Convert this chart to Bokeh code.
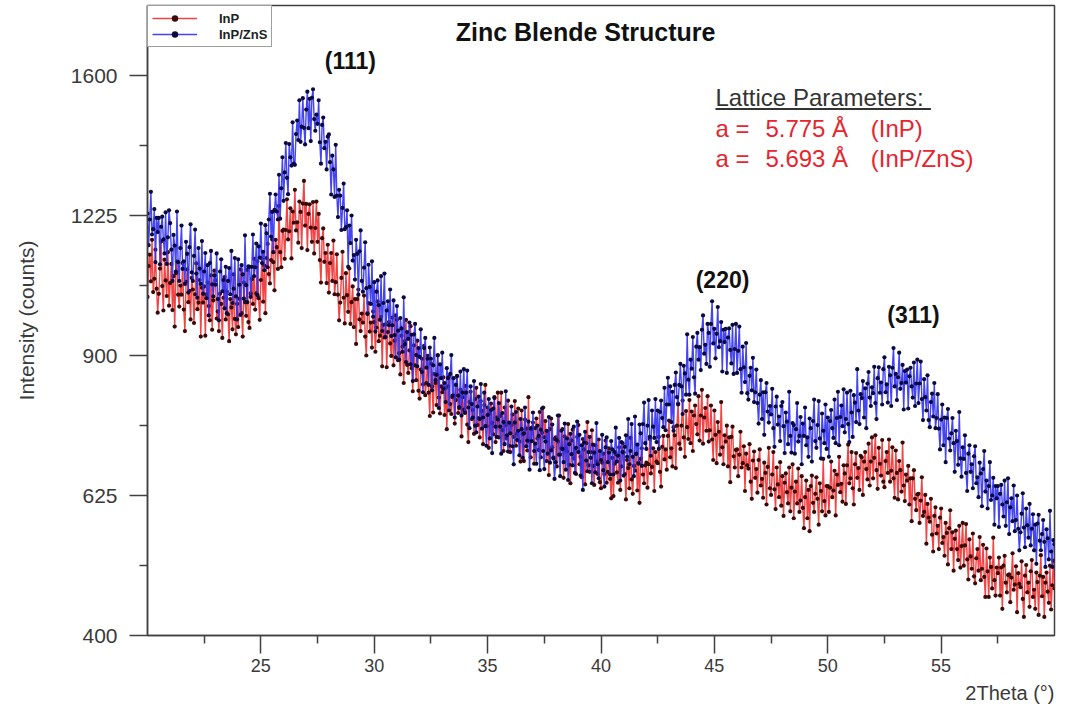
import numpy as np
from bokeh.plotting import figure
from bokeh.models import (Range1d, FixedTicker, CustomJSTickFormatter, Label, Legend,
                          LegendItem, Title, BoxAnnotation, ColumnDataSource)
from bokeh.embed import file_html
from bokeh.resources import INLINE

# ---------------- data (0.05 deg steps) ----------------
two_theta = np.round(np.linspace(20.0, 60.0, 801), 2)

inp_zns_counts = [
    1230, 1152, 1215, 1285, 1178, 1191, 1241, 1111, 1219, 1184,
    1219, 1106, 1197, 1222, 1166, 1132, 1233, 1107, 1171, 1238,
    1206, 1141, 1067, 1177, 1151, 1089, 1235, 1111, 1067, 1145,
    1200, 1095, 1113, 1060, 1160, 1131, 1040, 1147, 1203, 1087,
    1067, 1126, 1190, 1084, 1028, 1145, 1096, 1060, 1162, 1037,
    1089, 1133, 1027, 1104, 988, 1109, 1138, 1059, 1031, 1080,
    1058, 1132, 1025, 977, 1089, 1118, 1043, 1069, 1004, 1100,
    993, 1067, 1097, 1036, 1138, 1016, 1049, 1121, 1031, 979,
    1118, 1058, 989, 1104, 1082, 1026, 1176, 1057, 1018, 1101,
    1100, 1030, 1100, 1178, 1078, 1099, 1156, 1034, 1149, 1122,
    1205, 1109, 1136, 1092, 1201, 1181, 1099, 1215, 1280, 1173,
    1234, 1135, 1239, 1278, 1235, 1215, 1329, 1217, 1294, 1375,
    1262, 1335, 1413, 1321, 1279, 1410, 1375, 1353, 1469, 1358,
    1355, 1437, 1474, 1421, 1530, 1416, 1457, 1536, 1454, 1409,
    1504, 1554, 1453, 1534, 1418, 1537, 1561, 1478, 1446, 1490,
    1465, 1530, 1415, 1358, 1462, 1482, 1399, 1416, 1343, 1430,
    1436, 1362, 1278, 1379, 1343, 1272, 1408, 1275, 1221, 1290,
    1275, 1189, 1244, 1306, 1191, 1196, 1238, 1100, 1200, 1157,
    1225, 1115, 1128, 1070, 1165, 1131, 1035, 1137, 1188, 1067,
    1042, 1098, 1159, 1050, 991, 1105, 1053, 1014, 1113, 985,
    1064, 952, 1042, 1068, 1011, 978, 1078, 953, 1016, 1084,
    940, 999, 1020, 966, 1047, 942, 966, 1022, 944, 896,
    1009, 954, 891, 982, 959, 908, 1029, 924, 886, 951,
    936, 972, 881, 945, 846, 946, 969, 901, 877, 916,
    897, 957, 865, 823, 916, 938, 874, 893, 838, 917,
    893, 827, 879, 938, 848, 859, 900, 791, 881, 852,
    906, 830, 842, 803, 873, 852, 786, 861, 901, 816,
    852, 772, 838, 856, 816, 793, 866, 776, 822, 871,
    781, 822, 868, 792, 751, 835, 799, 772, 846, 756,
    743, 794, 814, 769, 840, 750, 772, 822, 755, 717,
    777, 809, 731, 787, 703, 790, 811, 754, 734, 768,
    801, 754, 702, 781, 763, 720, 825, 737, 706, 762,
    741, 794, 716, 682, 762, 783, 728, 746, 699, 769,
    749, 694, 741, 792, 716, 727, 764, 672, 750, 726,
    782, 707, 721, 683, 756, 736, 671, 748, 790, 707,
    673, 725, 746, 702, 773, 685, 708, 758, 693, 655,
    686, 728, 776, 700, 660, 746, 711, 686, 760, 672,
    731, 653, 720, 740, 701, 680, 754, 666, 713, 764,
    705, 738, 661, 718, 635, 723, 744, 689, 669, 705,
    734, 694, 647, 719, 704, 667, 761, 682, 656, 707,
    690, 738, 671, 641, 714, 733, 686, 704, 663, 726,
    710, 663, 705, 752, 687, 698, 732, 652, 724, 705,
    661, 715, 737, 696, 769, 682, 707, 759, 696, 660,
    774, 702, 719, 683, 758, 741, 679, 759, 802, 722,
    711, 756, 807, 734, 698, 786, 754, 732, 809, 724,
    786, 711, 783, 806, 771, 753, 832, 747, 798, 853,
    798, 835, 763, 824, 746, 838, 864, 813, 798, 838,
    882, 835, 779, 878, 862, 818, 946, 849, 818, 891,
    872, 940, 854, 820, 919, 949, 891, 918, 869, 956,
    988, 904, 923, 882, 969, 949, 876, 969, 1020, 926,
    958, 894, 947, 1007, 918, 931, 973, 866, 956, 929,
    958, 863, 939, 959, 912, 883, 967, 861, 914, 969,
    863, 910, 963, 871, 822, 919, 875, 844, 927, 821,
    808, 857, 874, 827, 895, 803, 823, 870, 801, 760,
    818, 848, 769, 823, 738, 823, 842, 784, 762, 795,
    778, 830, 751, 715, 794, 814, 758, 774, 726, 795,
    803, 755, 703, 782, 764, 720, 824, 736, 704, 761,
    757, 702, 749, 801, 725, 736, 773, 682, 760, 736,
    792, 718, 733, 696, 770, 751, 687, 765, 808, 726,
    713, 757, 805, 731, 693, 780, 746, 722, 798, 711,
    772, 696, 765, 787, 751, 732, 808, 722, 771, 824,
    718, 773, 796, 755, 829, 743, 769, 822, 759, 724,
    826, 782, 734, 817, 802, 763, 871, 786, 759, 819,
    811, 846, 772, 831, 751, 841, 865, 812, 795, 833,
    821, 876, 801, 769, 852, 875, 822, 843, 798, 871,
    896, 823, 839, 802, 876, 858, 795, 874, 916, 835,
    861, 807, 854, 906, 830, 842, 880, 788, 867, 843,
    870, 790, 856, 874, 835, 812, 885, 795, 841, 891,
    801, 841, 887, 809, 767, 850, 813, 786, 858, 767,
    753, 803, 820, 774, 842, 751, 771, 819, 750, 710,
    768, 798, 718, 772, 686, 771, 789, 731, 708, 741,
    771, 722, 668, 746, 726, 681, 783, 693, 659, 714,
    692, 737, 666, 633, 702, 718, 668, 682, 638, 697,
    716, 647, 658, 622, 685, 665, 606, 673, 707, 632,
    652, 602, 642, 686, 617, 625, 657, 574, 642, 620,
    642, 570, 628, 644, 609, 588, 652, 572, 613, 656,
    558, 604, 620, 580, 643, 563, 582, 625, 567, 531,
    561, 593, 629, 569, 536, 602, 573, 552, 610, 539,
    567, 592, 531, 574, 509, 576, 591, 547, 531, 558,
    582, 545, 504, 566, 551, 516, 598, 529, 504, 548,
    541,
]

inp_counts = [
    1030, 1102, 1129, 1066, 1165, 1041, 1072, 1141, 1049, 994,
    1037, 1096, 1161, 1055, 999, 1117, 1068, 1032, 1135, 1010,
    1062, 1107, 1000, 1078, 963, 1085, 1113, 1035, 1008, 1056,
    1035, 1109, 1001, 953, 1065, 1094, 1018, 1044, 979, 1074,
    1047, 971, 1036, 1108, 1002, 1017, 1069, 941, 1051, 1017,
    1054, 943, 1036, 1063, 1009, 977, 1080, 956, 1022, 1091,
    1068, 981, 997, 953, 1037, 1014, 938, 1028, 1076, 979,
    1042, 990, 931, 1025, 1006, 957, 1082, 980, 946, 1014,
    962, 1026, 1094, 993, 941, 1063, 1018, 987, 1093, 973,
    960, 1038, 1071, 1014, 1119, 1001, 1038, 1113, 1027, 978,
    1069, 1120, 1019, 1103, 993, 1121, 1155, 1083, 1061, 1116,
    1166, 1111, 1045, 1165, 1147, 1095, 1249, 1135, 1099, 1187,
    1190, 1119, 1189, 1266, 1166, 1186, 1243, 1120, 1235, 1207,
    1290, 1188, 1208, 1158, 1260, 1234, 1145, 1255, 1313, 1200,
    1254, 1140, 1229, 1253, 1195, 1160, 1259, 1132, 1194, 1260,
    1160, 1229, 1116, 1063, 1169, 1193, 1112, 1133, 1062, 1153,
    1040, 1109, 1133, 1067, 1163, 1036, 1064, 1130, 1035, 977,
    1017, 1074, 1136, 1028, 970, 1085, 1034, 996, 1096, 969,
    1018, 1054, 962, 1025, 925, 1025, 1047, 979, 953, 992,
    972, 1033, 941, 900, 993, 1016, 952, 972, 917, 997,
    973, 908, 961, 1020, 931, 943, 985, 877, 967, 939,
    968, 875, 951, 973, 926, 899, 983, 879, 932, 988,
    978, 890, 905, 860, 943, 919, 842, 931, 978, 880,
    863, 911, 964, 873, 825, 922, 879, 848, 932, 826,
    810, 870, 893, 839, 921, 817, 842, 899, 822, 775,
    883, 835, 782, 861, 842, 797, 901, 812, 780, 835,
    823, 854, 777, 832, 749, 835, 856, 799, 779, 813,
    816, 760, 807, 857, 781, 791, 828, 735, 813, 788,
    783, 836, 758, 724, 803, 824, 769, 787, 740, 809,
    832, 757, 771, 733, 805, 785, 720, 797, 838, 755,
    792, 713, 780, 800, 761, 739, 813, 724, 772, 822,
    733, 775, 822, 747, 707, 792, 757, 731, 806, 717,
    705, 757, 778, 734, 805, 717, 740, 790, 725, 687,
    786, 739, 688, 768, 750, 708, 813, 725, 695, 752,
    762, 683, 751, 770, 731, 709, 783, 695, 742, 792,
    733, 765, 688, 745, 662, 749, 770, 714, 695, 730,
    733, 678, 725, 776, 700, 712, 749, 657, 735, 711,
    706, 759, 681, 647, 727, 748, 693, 711, 664, 734,
    757, 682, 696, 658, 730, 710, 645, 722, 763, 680,
    668, 705, 747, 679, 644, 718, 687, 664, 729, 649,
    638, 685, 702, 664, 727, 648, 668, 712, 655, 620,
    694, 624, 683, 701, 667, 648, 714, 635, 678, 722,
    704, 664, 618, 690, 675, 638, 732, 654, 628, 679,
    670, 701, 634, 685, 612, 692, 712, 663, 647, 680,
    685, 639, 682, 730, 665, 677, 712, 633, 705, 687,
    684, 734, 668, 641, 715, 736, 691, 710, 672, 736,
    766, 695, 712, 678, 753, 737, 675, 756, 800, 721,
    711, 756, 806, 733, 696, 785, 753, 730, 807, 722,
    784, 707, 776, 796, 759, 739, 815, 727, 776, 828,
    721, 772, 791, 746, 815, 725, 747, 796, 729, 690,
    786, 738, 684, 763, 744, 700, 803, 714, 682, 737,
    725, 756, 678, 733, 649, 734, 754, 697, 676, 709,
    710, 660, 700, 744, 676, 684, 716, 633, 702, 680,
    674, 720, 650, 619, 689, 706, 657, 673, 630, 690,
    710, 643, 655, 621, 685, 666, 609, 677, 713, 638,
    626, 663, 705, 636, 601, 676, 645, 622, 686, 607,
    660, 589, 648, 665, 631, 611, 676, 597, 639, 682,
    585, 632, 650, 611, 674, 596, 616, 660, 603, 568,
    622, 652, 585, 635, 563, 642, 661, 612, 596, 628,
    658, 619, 574, 647, 633, 597, 692, 615, 590, 642,
    642, 596, 639, 687, 622, 634, 670, 590, 663, 644,
    696, 631, 646, 614, 680, 665, 610, 680, 719, 647,
    656, 705, 638, 609, 682, 703, 657, 675, 635, 698,
    695, 626, 687, 705, 673, 654, 721, 643, 687, 733,
    656, 694, 737, 671, 637, 713, 683, 661, 728, 650,
    640, 688, 705, 666, 729, 650, 670, 714, 656, 621,
    708, 666, 618, 688, 671, 632, 723, 643, 615, 663,
    652, 679, 609, 656, 580, 656, 671, 619, 599, 627,
    628, 577, 616, 658, 589, 596, 626, 542, 610, 586,
    579, 619, 557, 529, 589, 604, 559, 572, 533, 586,
    602, 543, 553, 522, 577, 560, 508, 568, 599, 533,
    561, 498, 550, 564, 533, 515, 572, 503, 538, 577,
    506, 539, 575, 516, 484, 549, 521, 501, 559, 489,
    478, 518, 533, 498, 553, 483, 501, 540, 488, 457,
    534, 497, 457, 519, 504, 470, 552, 483, 459, 503,
    494, 519, 459, 503, 439, 506, 522, 479, 464, 491,
    492, 449, 487, 526, 468, 476, 505, 434, 494, 477,
    472, 513, 454, 427, 490, 507, 464, 479, 442, 497,
    515, 457, 468, 439, 495, 480, 430, 490, 523, 458,
    488, 427, 479, 495, 465, 448, 506, 438, 475, 514,
    470,
]

series_names = ["InP", "InP/ZnS"]
y_tick_counts = [400, 625, 900, 1225, 1600]
y_minor_counts = [506.25, 756.25, 1056.25, 1406.25]
x_ticks = [25, 30, 35, 40, 45, 50, 55]
x_minor_ticks = [22.5, 27.5, 32.5, 37.5, 42.5, 47.5, 52.5, 57.5]
peak_labels = ["(111)", "(220)", "(311)"]
peak_pos_deg = [28.95, 45.36, 53.78]
peak_pos_counts = [1643, 1068, 990]
lattice_values = ["5.775\u00a0\u00c5", "5.693\u00a0\u00c5"]
lattice_names = ["(InP)", "(InP/ZnS)"]

# ---------------- figure (square-root intensity scale) ----------------
FONT = "Liberation Sans"
AX = "#404040"

p = figure(width=1076, height=711, output_backend="svg", toolbar_location=None,
           title=None, x_range=Range1d(20, 60), y_range=Range1d(20, 42.5),
           min_border_left=147, min_border_right=22, min_border_top=5,
           min_border_bottom=76, background_fill_color="white",
           border_fill_color="white")
p.outline_line_color = AX
p.outline_line_width = 1.5
p.xgrid.visible = False
p.ygrid.visible = False

src_inp = ColumnDataSource(dict(x=two_theta, y=np.sqrt(np.array(inp_counts, dtype=float))))
src_zns = ColumnDataSource(dict(x=two_theta, y=np.sqrt(np.array(inp_zns_counts, dtype=float))))

r1l = p.line("x", "y", source=src_inp, line_color="#f03030", line_width=1.4, line_alpha=0.9)
r1s = p.scatter("x", "y", source=src_inp, size=4.2, fill_color="#3a0a0a", line_color=None)
r2l = p.line("x", "y", source=src_zns, line_color="#3030f0", line_width=1.4, line_alpha=0.9)
r2s = p.scatter("x", "y", source=src_zns, size=4.2, fill_color="#0a0a40", line_color=None)

# axes
p.xaxis.ticker = FixedTicker(ticks=x_ticks, minor_ticks=x_minor_ticks)
p.yaxis.ticker = FixedTicker(ticks=[float(np.sqrt(v)) for v in y_tick_counts],
                             minor_ticks=[float(np.sqrt(v)) for v in y_minor_counts])
p.yaxis.formatter = CustomJSTickFormatter(code="return (tick*tick).toFixed(0);")
for ax in (p.xaxis, p.yaxis):
    ax.axis_line_color = AX
    ax.axis_line_width = 1.5
    ax.major_tick_line_color = AX
    ax.major_tick_line_width = 1.5
    ax.minor_tick_line_color = AX
    ax.minor_tick_line_width = 1.5
    ax.major_tick_in = 0
    ax.major_tick_out = 18
    ax.minor_tick_in = 0
    ax.minor_tick_out = 8
    ax.major_label_text_font = FONT
    ax.major_label_text_color = "#3a3a3a"
    ax.axis_label_text_font = FONT
    ax.axis_label_text_font_style = "normal"
    ax.axis_label_text_color = "#3a3a3a"

p.xaxis.major_label_text_font_size = "18px"
p.xaxis.major_label_standoff = 5
p.yaxis.major_label_text_font_size = "21px"
p.yaxis.major_label_standoff = 12
p.yaxis.axis_label = "Intensity (counts)"
p.yaxis.axis_label_text_font_size = "21px"
p.yaxis.axis_label_standoff = 30

p.add_layout(Title(text="2Theta (\u00b0)", align="right", text_font=FONT,
                   text_font_size="20px", text_font_style="normal",
                   text_color="#3a3a3a"), "below")

# legend
legend = Legend(items=[LegendItem(label=series_names[0], renderers=[r1l, r1s]),
                       LegendItem(label=series_names[1], renderers=[r2l, r2s])],
                location="top_left", margin=0, padding=4, spacing=0,
                glyph_width=45, glyph_height=16, label_height=16, label_standoff=22,
                label_text_font=FONT, label_text_font_size="13px",
                label_text_font_style="bold", label_text_color="#222222",
                border_line_color=AX, border_line_width=1.5,
                background_fill_color="white", background_fill_alpha=1)
p.add_layout(legend)

# annotations
p.add_layout(Label(x=39.32, y=41.57, text="Zinc Blende Structure", text_font=FONT,
                   text_font_size="25px", text_font_style="bold", text_color="#111111",
                   text_align="center", text_baseline="middle"))
for lbl, xd, yc in zip(peak_labels, peak_pos_deg, peak_pos_counts):
    p.add_layout(Label(x=xd, y=float(np.sqrt(yc)), text=lbl, text_font=FONT,
                       text_font_size="23px", text_font_style="bold", text_color="#111111",
                       text_align="center", text_baseline="middle"))

p.add_layout(Label(x=45.05, y=39.21, text="Lattice Parameters:", text_font=FONT,
                   text_font_size="24px", text_color="#333333",
                   text_align="left", text_baseline="middle"))
p.add_layout(BoxAnnotation(left=45.05, right=54.55, bottom=38.77, top=38.84,
                           fill_color="#333333", fill_alpha=1, line_color=None))
RED = "#e6252f"
for val, name, yy in zip(lattice_values, lattice_names, [38.11, 37.04]):
    p.add_layout(Label(x=45.05, y=yy, text="a =", text_font=FONT, text_font_size="24px",
                       text_color=RED, text_align="left", text_baseline="middle"))
    p.add_layout(Label(x=47.25, y=yy, text=val, text_font=FONT, text_font_size="24px",
                       text_color=RED, text_align="left", text_baseline="middle"))
    p.add_layout(Label(x=51.9, y=yy, text=name, text_font=FONT, text_font_size="24px",
                       text_color=RED, text_align="left", text_baseline="middle"))

open("out.html", "w").write(file_html(p, INLINE))
